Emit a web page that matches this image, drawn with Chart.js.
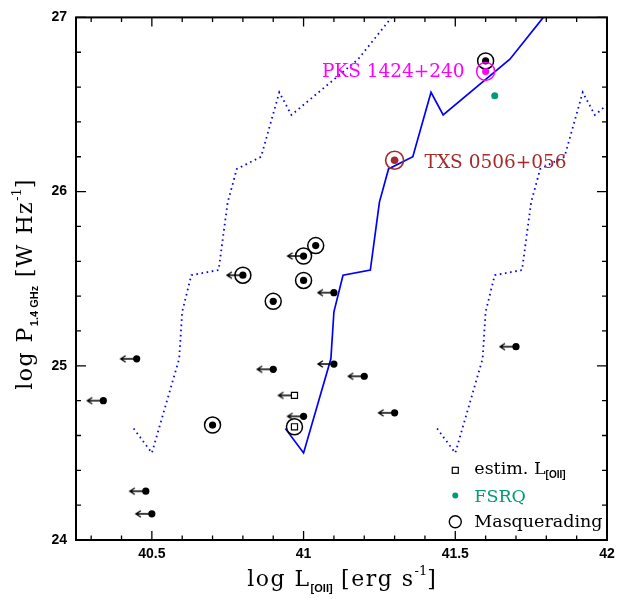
<!DOCTYPE html>
<html><head><meta charset="utf-8">
<style>html,body{margin:0;padding:0;background:#fff;} canvas{display:block;}</style>
<script src="https://cdn.jsdelivr.net/npm/chart.js@4.4.0/dist/chart.umd.min.js"></script>
</head><body>
<canvas id="c" width="625" height="599"></canvas>
<script>
// ---- tick values ----
const xMajorTicks = [40.5, 41, 41.5, 42];
const xMinorTicks = [40.3, 40.4, 40.6, 40.7, 40.8, 40.9, 41.1, 41.2, 41.3, 41.4, 41.6, 41.7, 41.8, 41.9];
const yMajorTicks = [24, 25, 26, 27];
const yMinorTicks = [24.2, 24.4, 24.6, 24.8, 25.2, 25.4, 25.6, 25.8, 26.2, 26.4, 26.6, 26.8];

// ---- detections (filled dots, no arrow) ----
const detX = [41.04, 41.0, 40.9, 40.7, 41.6];
const detY = [25.69, 25.49, 25.37, 24.66, 26.75];
// ---- upper limits in L[OII] (filled dots with arrow) ----
const limX = [41.0, 40.8, 41.1, 41.1, 41.2, 40.9, 41.0, 40.45, 40.34, 40.48, 40.5, 41.3, 41.7];
const limY = [25.63, 25.52, 25.42, 25.01, 24.94, 24.98, 24.71, 25.04, 24.80, 24.28, 24.15, 24.73, 25.11];
// ---- estimated L[OII] (open squares) ----
const estX = [40.97];
const estY = [24.65];
const estLimX = [40.97];
const estLimY = [24.83];
// ---- masquerading (open circles) ----
const masqX = [41.04, 41.0, 40.8, 41.0, 40.9, 40.7, 40.97, 41.6];
const masqY = [25.69, 25.63, 25.52, 25.49, 25.37, 24.66, 24.65, 26.75];
// ---- FSRQ ----
const fsrqX = [41.63];
const fsrqY = [26.55];
// ---- named sources ----
const pksX = [41.6], pksY = [26.69];
const txsX = [41.3], txsY = [26.18];
// ---- relation (solid) and its scatter (dotted) ----
const solidX = [40.94, 41.0, 41.09, 41.1, 41.13, 41.22, 41.25, 41.28, 41.36, 41.42, 41.46, 41.68, 41.79];
const solidY = [24.64, 24.5, 25.04, 25.31, 25.52, 25.55, 25.94, 26.13, 26.2, 26.57, 26.44, 26.76, 27.0];
const leftDotX = [40.44, 40.5, 40.59, 40.6, 40.63, 40.72, 40.75, 40.78, 40.86, 40.92, 40.96, 41.18, 41.29];
const leftDotY = [24.64, 24.5, 25.04, 25.31, 25.52, 25.55, 25.94, 26.13, 26.2, 26.57, 26.44, 26.76, 27.0];
const rightDotX = [41.44, 41.5, 41.59, 41.6, 41.63, 41.72, 41.75, 41.78, 41.86, 41.92, 41.96, 42.18];
const rightDotY = [24.64, 24.5, 25.04, 25.31, 25.52, 25.55, 25.94, 26.13, 26.2, 26.57, 26.44, 26.76];
// ---- legend ----
const legendLabels = ['estim. L', 'FSRQ', 'Masquerading'];
const legendY = [24.40, 24.255, 24.105];
const legendX = 41.5;

const zip = (xs, ys) => xs.map((x, i) => ({x, y: ys[i]}));

const BLUE = '#0000ff', MAG = '#ff00ff', BROWN = '#a52a2a', GREEN = '#009b77';
const SERIF = "'DejaVu Serif', serif";
const SANS = "'Liberation Sans', Arial, sans-serif";

function makeArrow() {
  const c = document.createElement('canvas');
  c.width = 40; c.height = 12;
  const g = c.getContext('2d');
  g.strokeStyle = '#000'; g.lineWidth = 1.3;
  const cx = 20, cy = 6, tip = cx - 16;
  g.beginPath();
  g.moveTo(cx, cy); g.lineTo(tip, cy);
  g.moveTo(tip + 5, cy - 3.3); g.lineTo(tip, cy); g.lineTo(tip + 5, cy + 3.3);
  g.stroke();
  return c;
}
const arrowImg = makeArrow();

function drawRich(ctx, segs, x, y, align, rot, color) {
  ctx.save();
  ctx.translate(x, y);
  if (rot) ctx.rotate(rot);
  ctx.textAlign = 'left'; ctx.textBaseline = 'alphabetic';
  let w = 0;
  for (const s of segs) { ctx.font = s.f; ctx.letterSpacing = (s.ls || 0) + 'px'; w += ctx.measureText(s.t).width; }
  let cx = align === 'center' ? -w / 2 : align === 'right' ? -w : 0;
  for (const s of segs) {
    ctx.font = s.f; ctx.letterSpacing = (s.ls || 0) + 'px';
    ctx.fillStyle = s.c || color;
    ctx.fillText(s.t, cx, s.dy || 0);
    cx += ctx.measureText(s.t).width;
  }
  ctx.restore();
}

const decor = {
  id: 'decor',
  afterDatasetsDraw(chart) {
    const ctx = chart.ctx, a = chart.chartArea;
    const sx = chart.scales.x, sy = chart.scales.y;
    ctx.save();
    ctx.strokeStyle = '#000';
    ctx.lineWidth = 1.3;
    ctx.beginPath();
    for (const v of xMajorTicks.concat(xMinorTicks)) {
      const px = sx.getPixelForValue(v);
      const L = xMajorTicks.includes(v) ? 9 : 4.5;
      ctx.moveTo(px, a.bottom); ctx.lineTo(px, a.bottom - L);
      ctx.moveTo(px, a.top); ctx.lineTo(px, a.top + L);
    }
    for (const v of yMajorTicks.concat(yMinorTicks)) {
      const py = sy.getPixelForValue(v);
      const L = yMajorTicks.includes(v) ? 10 : 5;
      ctx.moveTo(a.left, py); ctx.lineTo(a.left + L, py);
      ctx.moveTo(a.right, py); ctx.lineTo(a.right - L, py);
    }
    ctx.stroke();
    ctx.lineWidth = 2;
    ctx.strokeRect(a.left, a.top, a.right - a.left, a.bottom - a.top);

    // source labels
    const labF = "18.5px " + SERIF;
    drawRich(ctx, [{t: 'PKS 1424+240', f: labF}], sx.getPixelForValue(pksX[0]) - 21, sy.getPixelForValue(pksY[0]) + 6, 'right', 0, MAG);
    drawRich(ctx, [{t: 'TXS 0506+056', f: labF}], sx.getPixelForValue(txsX[0]) + 30, sy.getPixelForValue(txsY[0]) + 7.5, 'left', 0, BROWN);

    // legend
    const lx = sx.getPixelForValue(legendX);
    const legF = "17.5px " + SERIF;
    const subF = "bold 10px " + SANS;
    let ly = sy.getPixelForValue(legendY[0]);
    ctx.lineWidth = 1.2; ctx.strokeStyle = '#000';
    ctx.strokeRect(lx - 3, ly - 3, 6, 6);
    drawRich(ctx, [{t: legendLabels[0], f: legF}, {t: '[OII]', f: subF, dy: 4}], lx + 19, ly + 4, 'left', 0, '#000');
    ly = sy.getPixelForValue(legendY[1]);
    ctx.fillStyle = GREEN; ctx.beginPath(); ctx.arc(lx, ly, 3, 0, Math.PI * 2); ctx.fill();
    drawRich(ctx, [{t: legendLabels[1], f: legF}], lx + 19, ly + 6, 'left', 0, GREEN);
    ly = sy.getPixelForValue(legendY[2]);
    ctx.lineWidth = 1.4; ctx.strokeStyle = '#000';
    ctx.beginPath(); ctx.arc(lx, ly, 6, 0, Math.PI * 2); ctx.stroke();
    drawRich(ctx, [{t: legendLabels[2], f: legF}], lx + 19, ly + 5, 'left', 0, '#000');

    // axis titles
    const tF = "22px " + SERIF;
    const tS = "bold 11px " + SANS;
    const tP = "13px " + SERIF;
    const cxm = (a.left + a.right) / 2, cym = (a.top + a.bottom) / 2;
    drawRich(ctx, [
      {t: 'log L', f: tF, ls: 1.5}, {t: '[OII]', f: tS, dy: 6},
      {t: ' [erg s', f: tF, ls: 1.5}, {t: '-1', f: tP, dy: -11}, {t: ']', f: tF}
    ], cxm, 586, 'center', 0, '#000');
    drawRich(ctx, [
      {t: 'log P', f: tF, ls: 1.5}, {t: '1.4 GHz', f: tS, dy: 6},
      {t: ' [W Hz', f: tF, ls: 1.5}, {t: '-1', f: tP, dy: -11}, {t: ']', f: tF}
    ], 32, cym + 6, 'center', -Math.PI / 2, '#000');
    ctx.restore();
  }
};

const lineDs = (xs, ys, dash, w) => ({
  type: 'line', data: zip(xs, ys), borderColor: BLUE, borderWidth: w, borderDash: dash,
  pointRadius: 0, fill: false, tension: 0, order: 10
});

new Chart(document.getElementById('c'), {
  type: 'scatter',
  data: {
    datasets: [
      {data: zip(pksX, pksY), pointStyle: 'circle', pointRadius: 3.5, backgroundColor: MAG, borderColor: MAG, borderWidth: 0, order: 1},
      {data: zip(pksX, pksY), pointStyle: 'circle', pointRadius: 9, backgroundColor: 'rgba(0,0,0,0)', borderColor: MAG, borderWidth: 1.5, order: 1},
      {data: zip(txsX, txsY), pointStyle: 'circle', pointRadius: 3.8, backgroundColor: BROWN, borderColor: BROWN, borderWidth: 0, order: 1},
      {data: zip(txsX, txsY), pointStyle: 'circle', pointRadius: 9, backgroundColor: 'rgba(0,0,0,0)', borderColor: BROWN, borderWidth: 1.6, order: 1},
      {data: zip(fsrqX, fsrqY), pointStyle: 'circle', pointRadius: 3.5, backgroundColor: GREEN, borderColor: GREEN, borderWidth: 0, order: 1},
      {data: zip(masqX, masqY), pointStyle: 'circle', pointRadius: 8, backgroundColor: 'rgba(0,0,0,0)', borderColor: '#000', borderWidth: 1.5, order: 2},
      {data: zip(detX, detY), pointStyle: 'circle', pointRadius: 3.6, backgroundColor: '#000', borderColor: '#000', borderWidth: 0, order: 3},
      {data: zip(limX, limY), pointStyle: 'circle', pointRadius: 3.6, backgroundColor: '#000', borderColor: '#000', borderWidth: 0, order: 3},
      {data: zip(estX.concat(estLimX), estY.concat(estLimY)), pointStyle: 'rect', pointRadius: 4.3, backgroundColor: '#fff', borderColor: '#000', borderWidth: 1.2, order: 3},
      {data: zip(limX.concat(estLimX), limY.concat(estLimY)), pointStyle: arrowImg, pointRadius: 5, order: 5},
      lineDs(solidX, solidY, [], 1.7),
      lineDs(leftDotX, leftDotY, [1.6, 3.6], 1.8),
      lineDs(rightDotX, rightDotY, [1.6, 3.6], 1.8)
    ]
  },
  options: {
    responsive: false, animation: false, events: [],
    layout: {padding: {top: 8, right: 18, left: 0, bottom: 0}},
    plugins: {legend: {display: false}, tooltip: {enabled: false}},
    scales: {
      x: {
        type: 'linear', min: 40.25, max: 42,
        afterBuildTicks: s => { s.ticks = xMajorTicks.map(v => ({value: v})); },
        afterFit: s => { s.height = 59; },
        grid: {display: false, drawTicks: false}, border: {display: false},
        ticks: {color: '#000', font: {family: SANS, size: 14, weight: 'bold'}, padding: 6,
                callback: v => String(v)}
      },
      y: {
        type: 'linear', min: 24, max: 27,
        afterBuildTicks: s => { s.ticks = yMajorTicks.map(v => ({value: v})); },
        afterFit: s => { s.width = 76; },
        grid: {display: false, drawTicks: false}, border: {display: false},
        ticks: {color: '#000', font: {family: SANS, size: 14, weight: 'bold'}, padding: 9,
                callback: v => String(v)}
      }
    }
  },
  plugins: [decor]
});
</script>
</body></html>
